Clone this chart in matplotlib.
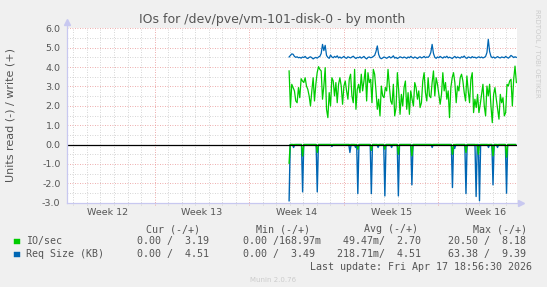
import numpy as np
import matplotlib.pyplot as plt
from matplotlib.patches import Rectangle

W, H = 547, 287
green = '#00CC00'
blue = '#0066B3'
txt = '#555555'

# x axis in days, week 12 centred on day 3
weeks = ['Week 12', 'Week 13', 'Week 14', 'Week 15', 'Week 16']
week_mid = [3, 10, 17, 24, 31]
week_edge = [6.5, 13.5, 20.5, 27.5]
x_end = 33.33
t0, t1 = 16.45, 33.26

# write side (+)
io_write = [3.80, 1.91, 3.11, 2.94, 2.77, 2.25, 2.16, 2.94, 2.42, 3.40,
            3.28, 3.20, 3.45, 3.02, 2.85, 2.51, 1.99, 2.77, 3.45, 2.25,
            3.11, 3.71, 4.02, 3.88, 3.80, 2.34, 3.02, 3.97, 1.82, 1.39,
            2.68, 1.99, 3.45, 3.28, 2.51, 3.20, 2.16, 3.11, 3.45, 3.02,
            2.08, 3.02, 3.28, 2.77, 2.34, 3.37, 3.63, 2.51, 2.16, 3.88,
            1.82, 2.85, 3.11, 2.68, 3.63, 2.77, 3.28, 3.88, 2.25, 3.71,
            3.20, 3.37, 2.16, 3.88, 3.63, 2.77, 1.82, 2.34, 1.48, 3.02,
            2.51, 2.42, 2.94, 2.77, 3.88, 3.02, 2.25, 2.08, 3.11, 1.48,
            1.91, 3.71, 2.77, 1.56, 2.59, 1.99, 2.94, 3.28, 1.82, 2.68,
            1.56, 2.77, 2.34, 1.99, 3.20, 2.94, 2.34, 2.77, 1.91, 2.16,
            3.28, 3.71, 2.68, 2.25, 3.45, 2.51, 2.42, 3.20, 3.80, 2.51,
            3.45, 3.11, 2.59, 2.08, 2.59, 3.71, 2.77, 3.20, 2.34, 2.77,
            1.39, 2.94, 3.45, 3.71, 3.20, 2.16, 3.02, 2.77, 3.45, 3.63,
            3.28, 2.68, 2.25, 3.54, 2.77, 2.16, 3.37, 3.71, 1.65, 2.34,
            1.91, 2.59, 1.65, 2.08, 2.59, 3.11, 1.99, 1.48, 3.02, 2.51,
            3.11, 1.99, 1.13, 2.59, 2.94, 2.34, 1.82, 1.31, 2.59, 2.16,
            2.42, 1.48, 1.65, 3.11, 3.02, 3.28, 3.37, 1.99, 3.37, 4.05,
            3.20]
req_write = [4.52, 4.60, 4.68, 4.66, 4.55, 4.50, 4.53, 4.48, 4.50, 4.46,
             4.52, 4.49, 4.55, 4.47, 4.44, 4.50, 4.53, 4.48, 4.42, 4.47,
             4.50, 4.46, 4.52, 4.55, 4.70, 5.17, 4.85, 5.12, 4.60, 4.50,
             4.45, 4.62, 4.52, 4.48, 4.55, 4.50, 4.58, 4.47, 4.52, 4.46,
             4.50, 4.55, 4.48, 4.45, 4.53, 4.50, 4.47, 4.52, 4.56, 4.49,
             4.44, 4.50, 4.48, 4.53, 4.46, 4.50, 4.55, 4.47, 4.42, 4.50,
             4.52, 4.48, 4.50, 4.55, 4.60, 4.80, 5.09, 4.65, 4.48, 4.43,
             4.47, 4.52, 4.49, 4.45, 4.50, 4.54, 4.47, 4.51, 4.58, 4.46,
             4.50, 4.44, 4.48, 4.53, 4.50, 4.47, 4.52, 4.49, 4.45, 4.52,
             4.48, 4.55, 4.50, 4.46, 4.52, 4.49, 4.44, 4.50, 4.53, 4.47,
             4.50, 4.55, 4.48, 4.52, 4.50, 4.58, 4.75, 5.17, 4.70, 4.50,
             4.45, 4.52, 4.48, 4.55, 4.50, 4.46, 4.53, 4.49, 4.56, 4.47,
             4.51, 4.48, 4.44, 4.50, 4.55, 4.47, 4.52, 4.49, 4.46, 4.53,
             4.50, 4.57, 4.48, 4.45, 4.52, 4.50, 4.47, 4.54, 4.49, 4.51,
             4.46, 4.50, 4.53, 4.48, 4.52, 4.47, 4.50, 4.55, 4.75, 5.43,
             4.80, 4.55, 4.48, 4.52, 4.46, 4.50, 4.54, 4.49, 4.47, 4.52,
             4.50, 4.48, 4.55, 4.50, 4.46, 4.52, 4.60, 4.55, 4.49, 4.53,
             4.50]

# read side (-): mostly zero, spikes at (day, value)
req_read_spikes = [(16.48, -2.90), (16.77, -0.15), (17.49, -2.44), (18.50, -2.44),
                   (19.62, -0.10), (20.92, -0.41), (21.39, -0.15), (21.51, -2.53),
                   (22.50, -2.53), (23.02, -0.15), (23.56, -2.65), (24.06, -0.15),
                   (24.50, -2.65), (25.51, -2.08), (27.06, -0.15), (28.50, -2.22),
                   (28.67, -0.20), (29.50, -2.53), (30.32, -2.68), (30.52, -2.90),
                   (31.21, -0.15), (31.53, -2.08), (31.87, -0.15), (32.52, -2.51)]
io_read_spikes = [(16.48, -0.96), (17.49, -0.59), (18.50, -0.41), (21.51, -0.24),
                  (22.50, -0.30), (23.56, -0.24), (24.50, -0.50), (25.51, -0.58),
                  (28.50, -0.50), (29.50, -0.41), (30.45, -0.50), (31.53, -0.58),
                  (32.52, -0.65)]

t_write = np.linspace(t0, t1, len(io_write))
t_read = t0 + np.arange(202) / 12.0
req_read = np.zeros(len(t_read))
io_read = np.zeros(len(t_read))
for d, v in req_read_spikes:
    req_read[int(round((d - t0) * 12))] = v
for d, v in io_read_spikes:
    io_read[int(round((d - t0) * 12))] = v


def px(x, y):
    return x / W, 1 - y / H


fig = plt.figure(figsize=(W / 100, H / 100), dpi=100, facecolor='#F0F0F0')
l, r, top, bot = 66.7, 517.3, 28.3, 202.7
ax = fig.add_axes([l / W, 1 - bot / H, (r - l) / W, (bot - top) / H])
ax.set_facecolor('white')
ax.set_xlim(0, x_end)
ax.set_ylim(-3, 6)

# grid
dot = (0, (1, 2))
for y in np.arange(-2.5, 6, 1.0):
    ax.axhline(y, color='#C8C8C8', lw=0.6, ls=dot, zorder=1)
for y in range(-2, 7):
    ax.axhline(y, color='#E89090', lw=0.6, ls=dot, zorder=1)
for d in np.arange(0.5, x_end, 1.0):
    if d not in week_edge:
        ax.vlines(d, -3.12, 6, color='#C8C8C8', lw=0.6, ls=dot, zorder=1, clip_on=False)
for d in week_edge:
    ax.vlines(d, -3.12, 6, color='#E89090', lw=0.6, ls=dot, zorder=1, clip_on=False)

ax.plot(t_read, req_read, color=blue, lw=1.0, zorder=3)
ax.plot(t_read, io_read, color=green, lw=1.0, zorder=3)
ax.plot(t_write, io_write, color=green, lw=0.9, zorder=3)
ax.plot(t_write, req_write, color=blue, lw=0.9, zorder=3)
ax.axhline(0, color='black', lw=0.9, zorder=4)

for s in ax.spines.values():
    s.set_visible(False)
axc = '#C8C8F0'
ax.plot([0, 0], [-3, 6.3], color=axc, lw=0.9, clip_on=False, zorder=5)
ax.plot([0, x_end + 0.25], [-3, -3], color=axc, lw=0.9, clip_on=False, zorder=5)
ax.plot([0], [6.3], marker='^', ms=4, color=axc, clip_on=False, zorder=5)
ax.plot([x_end + 0.25], [-3], marker='>', ms=4, color=axc, clip_on=False, zorder=5)

ax.set_yticks(range(-3, 7))
ax.set_yticklabels(['%.1f' % v for v in range(-3, 7)])
ax.set_xticks(week_mid)
ax.set_xticklabels(weeks)
ax.tick_params(axis='y', length=0, pad=4.5, labelsize=6.8, labelcolor=txt)
ax.tick_params(axis='x', length=0, pad=3.5, labelsize=6.8, labelcolor=txt)

fig.text(*px(272.5, 19), 'IOs for /dev/pve/vm-101-disk-0 - by month',
         ha='center', va='center', fontsize=9, color=txt)
fig.text(*px(10.5, 115.5), 'Units read (-) / write (+)', rotation=90,
         ha='center', va='center', fontsize=8, color=txt)
fig.text(*px(537, 53), 'RRDTOOL / TOBI OETIKER', rotation=270,
         ha='center', va='center', fontsize=5, color='#CCCCCC')

mono = dict(family='DejaVu Sans Mono', fontsize=7.2, color=txt, va='center', ha='left')
heads = [(146.5, 'Cur (-/+)'), (255.7, 'Min (-/+)'), (363.8, 'Avg (-/+)'), (472.6, 'Max (-/+)')]
for x, s in heads:
    fig.text(*px(x, 229.2), s, **mono)

cols = [125, 231, 337, 442]
rows = [('IO/sec', green, 241.4,
         ['  0.00 /  3.19 ', '  0.00 /168.97m', ' 49.47m/  2.70 ', ' 20.50 /  8.18 ']),
        ('Req Size (KB)', blue, 254.3,
         ['  0.00 /  4.51 ', '  0.00 /  3.49 ', '218.71m/  4.51 ', ' 63.38 /  9.39 '])]
for name, c, y, vals in rows:
    fig.patches.append(Rectangle(px(14, y + 2.7), 5.5 / W, 5.5 / H, transform=fig.transFigure,
                                 facecolor=c, edgecolor=c, lw=0.3))
    fig.text(*px(26, y), name, **mono)
    for x, s in zip(cols, vals):
        fig.text(*px(x, y), s, **mono)

fig.text(*px(532, 266.9), 'Last update: Fri Apr 17 18:56:30 2026',
         family='DejaVu Sans Mono', fontsize=7.2, color=txt, va='center', ha='right')
fig.text(*px(272.8, 280.5), 'Munin 2.0.76', ha='center', va='center',
         fontsize=5, color='#CCCCCC')

fig.savefig('out.png', dpi=100, facecolor=fig.get_facecolor())
